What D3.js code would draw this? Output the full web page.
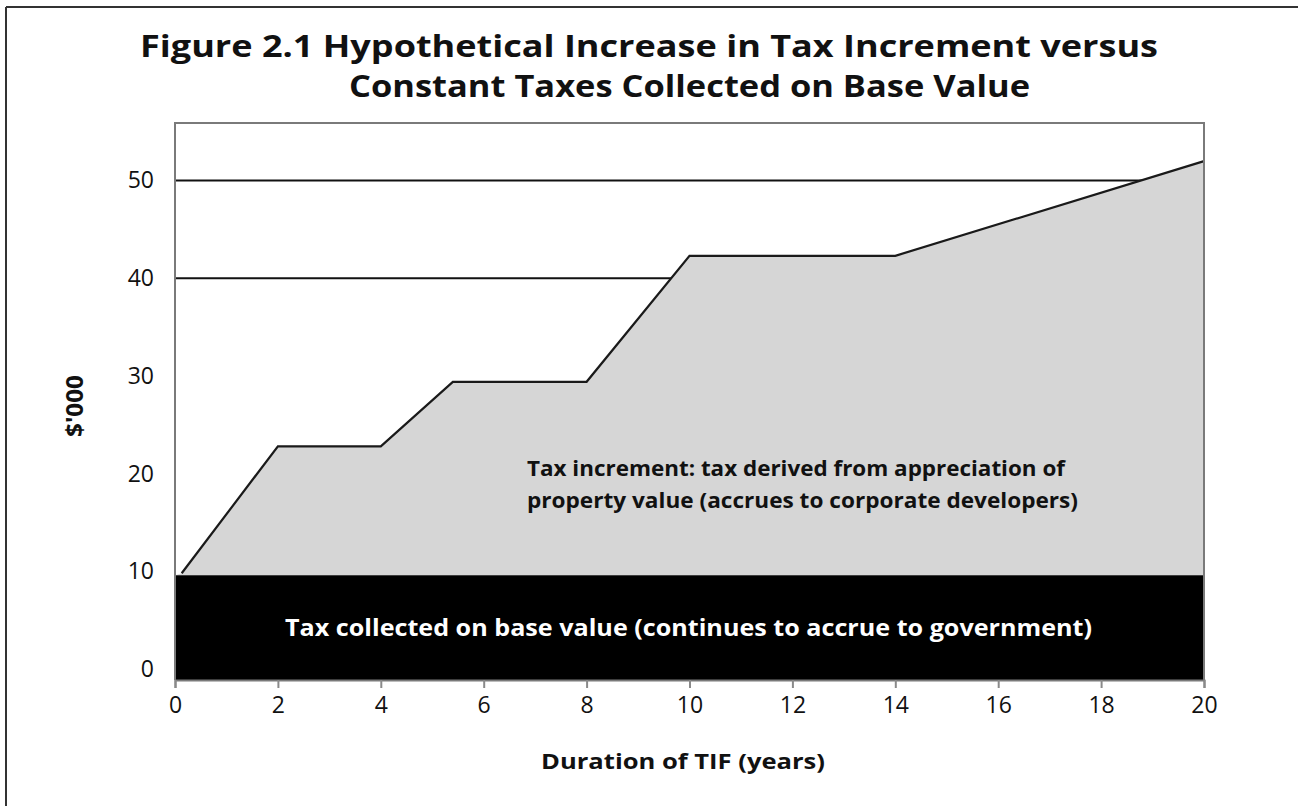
<!DOCTYPE html>
<html><head><meta charset="utf-8">
<script src="https://cdn.jsdelivr.net/npm/d3@7"></script>
<style>body{margin:0;background:#fff}svg{display:block}</style>
</head><body>
<svg id="c" width="1298" height="806"></svg>
<script>
// ---- data ----
const xTicks = [0, 2, 4, 6, 8, 10, 12, 14, 16, 18, 20];
const yTicks = [0, 10, 20, 30, 40, 50];
const gridValues = [40, 50];
const incYears  = [0.13, 2, 4, 5.4, 8, 10, 14, 20];
const incValues = [9.8, 22.8, 22.8, 29.4, 29.4, 42.3, 42.3, 52];
const baseYears  = [0, 20];
const baseValues = [9.6, 9.6];
const titleLines = ["Figure 2.1 Hypothetical Increase in Tax Increment versus",
                    "Constant Taxes Collected on Base Value"];
const incLabel = ["Tax increment: tax derived from appreciation of",
                  "property value (accrues to corporate developers)"];
const baseLabel = "Tax collected on base value (continues to accrue to government)";
const xTitle = "Duration of TIF (years)";
const yTitle = "$'000";
const yDomain = [-1.13, 55.9];

// ---- layout ----
const svg = d3.select("#c");
const font = "'Open Sans', Lato, sans-serif";
const pL = 175, pR = 1204, pT = 123, pB = 680;
const x = d3.scaleLinear().domain([0, 20]).range([pL, pR]);
const y = d3.scaleLinear().domain(yDomain).range([pB, pT]);

function fit(sel, len) {
  sel.attr("textLength", len).attr("lengthAdjust", "spacingAndGlyphs");
}

// outer frame (left and top edges only visible)
svg.append("line").attr("x1", 6).attr("x2", 6).attr("y1", 7).attr("y2", 806)
  .attr("stroke", "#333").attr("stroke-width", 2);
svg.append("line").attr("x1", 6).attr("x2", 1298).attr("y1", 7).attr("y2", 7)
  .attr("stroke", "#333").attr("stroke-width", 2);

// title
const titleX = [649, 689.5], titleY = [57, 97], titleLen = [1018, 681];
svg.selectAll("text.title").data(titleLines).join("text")
  .attr("class", "title")
  .attr("x", (d, i) => titleX[i])
  .attr("y", (d, i) => titleY[i])
  .attr("text-anchor", "middle")
  .attr("textLength", (d, i) => titleLen[i]).attr("lengthAdjust", "spacingAndGlyphs")
  .style("font-family", font).style("font-weight", "700").style("font-size", "30px")
  .attr("fill", "#111")
  .text(d => d);

// gridlines
svg.selectAll("line.grid").data(gridValues).join("line")
  .attr("class", "grid")
  .attr("x1", pL).attr("x2", pR)
  .attr("y1", d => y(d)).attr("y2", d => y(d))
  .attr("stroke", "#111").attr("stroke-width", 2);

// increment area (gray)
const incData = incYears.map((t, i) => ({t, v: incValues[i]}));
const incArea = d3.area().x(d => x(d.t)).y0(y(baseValues[0])).y1(d => y(d.v));
const incAreaData = [{t: 0, v: baseValues[0]}].concat(incData);
svg.append("path").datum(incAreaData).attr("d", incArea).attr("fill", "#d6d6d6");
svg.append("path").datum(incData)
  .attr("d", d3.line().x(d => x(d.t)).y(d => y(d.v)))
  .attr("fill", "none").attr("stroke", "#1a1a1a").attr("stroke-width", 2.2);

// base area (black)
const baseData = baseYears.map((t, i) => ({t, v: baseValues[i]}));
svg.append("path").datum(baseData)
  .attr("d", d3.area().x(d => x(d.t)).y0(y(yDomain[0])).y1(d => y(d.v)))
  .attr("fill", "#000");

// plot border
svg.append("path")
  .attr("d", `M${pL},${pB}V${pT}H${pR}V${pB}`)
  .attr("fill", "none").attr("stroke", "#7a7a7a").attr("stroke-width", 2);

// x axis
const xAxis = svg.append("g").attr("transform", `translate(0,${pB})`)
  .call(d3.axisBottom(x).tickValues(xTicks).tickSize(8).tickPadding(9).tickFormat(d3.format("d")));
xAxis.select(".domain").attr("stroke", "#7a7a7a").attr("stroke-width", 2);
xAxis.selectAll(".tick line").attr("stroke", "#8a8a8a").attr("stroke-width", 2);
xAxis.selectAll("text").style("font-family", font).style("font-size", "23px").attr("fill", "#111");

// y axis
const yAxis = svg.append("g").attr("transform", `translate(${pL},0)`)
  .call(d3.axisLeft(y).tickValues(yTicks).tickSize(0).tickPadding(21).tickFormat(d3.format("d")));
yAxis.select(".domain").remove();
yAxis.selectAll("text").style("font-family", font).style("font-size", "23px").attr("fill", "#111");

// annotations
const incLen = [538, 551];
svg.selectAll("text.inc").data(incLabel).join("text")
  .attr("class", "inc")
  .attr("x", 527).attr("y", (d, i) => 476 + i * 32)
  .attr("textLength", (d, i) => incLen[i]).attr("lengthAdjust", "spacingAndGlyphs")
  .style("font-family", font).style("font-weight", "700").style("font-size", "21px")
  .attr("fill", "#111").text(d => d);

svg.append("text").attr("x", 688.5).attr("y", 636)
  .attr("text-anchor", "middle")
  .style("font-family", font).style("font-weight", "700").style("font-size", "23px")
  .attr("fill", "#fff").text(baseLabel).call(fit, 807);

// axis titles
svg.append("text").attr("x", 683).attr("y", 769).attr("text-anchor", "middle")
  .style("font-family", font).style("font-weight", "700").style("font-size", "22px")
  .attr("fill", "#111").text(xTitle).call(fit, 284);
svg.append("text").attr("transform", "translate(83,406) rotate(-90)").attr("text-anchor", "middle")
  .style("font-family", font).style("font-weight", "700").style("font-size", "23px")
  .attr("fill", "#111").text(yTitle).call(fit, 62);
</script>
</body></html>
